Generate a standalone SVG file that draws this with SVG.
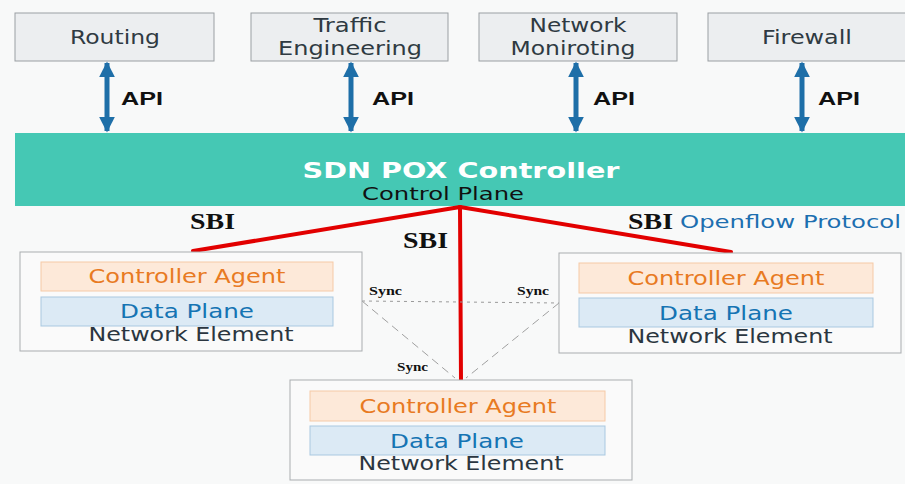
<svg xmlns="http://www.w3.org/2000/svg" width="905" height="484" viewBox="0 0 905 484">
<defs>
<style>
.app{fill:#eceef0;stroke:#9a9fa3;stroke-width:1}
.t{font-family:"DejaVu Sans","Liberation Sans",sans-serif;text-anchor:middle}
.appt{font-size:19.5px;fill:#2f3a42}
.api{font-family:"Liberation Sans",Arial,sans-serif;font-weight:bold;font-size:19px;fill:#111}
.ne{fill:#fafafa;stroke:#a9adb0;stroke-width:1}
.ca{fill:#fde9d9;stroke:#f5c9a6;stroke-width:1}
.dp{fill:#dceaf5;stroke:#a9c8e0;stroke-width:1}
.cat{font-size:20px;fill:#e87a22}
.dpt{font-size:20px;fill:#1574b3}
.net{font-size:20px;fill:#2b3640}
.sbi{font-family:"Liberation Serif","Times New Roman",serif;font-weight:bold;font-size:23px;fill:#111}
.sync{font-family:"Liberation Serif","Times New Roman",serif;font-weight:bold;font-size:12px;fill:#111}
.red{stroke:#e20000;stroke-width:4;fill:none;stroke-linecap:round}
</style>
<marker id="ah" viewBox="0 0 10 10" refX="9" refY="5" markerWidth="3.2" markerHeight="3.2" orient="auto-start-reverse" markerUnits="strokeWidth">
<path d="M0,0 L10,5 L0,10 z" fill="#1e6fa8"/>
</marker>
</defs>
<rect x="0" y="0" width="905" height="484" fill="#f8f9f9"/>

<g id="routing">
<rect class="app" x="15" y="13" width="199" height="48"/>
<text class="t appt" x="115" y="44" textLength="90" lengthAdjust="spacingAndGlyphs">Routing</text>
</g>
<g id="traffic-engineering">
<rect class="app" x="251" y="13" width="197" height="48"/>
<text class="t appt" x="350" y="32" textLength="73" lengthAdjust="spacingAndGlyphs">Traffic</text>
<text class="t appt" x="350" y="55" textLength="144" lengthAdjust="spacingAndGlyphs">Engineering</text>
</g>
<g id="network-monitoring">
<rect class="app" x="479" y="13" width="198" height="48"/>
<text class="t appt" x="578" y="32" textLength="97" lengthAdjust="spacingAndGlyphs">Network</text>
<text class="t appt" x="573" y="55" textLength="125" lengthAdjust="spacingAndGlyphs">Moniroting</text>
</g>
<g id="firewall">
<rect class="app" x="708" y="13" width="210" height="48"/>
<text class="t appt" x="807" y="44" textLength="90" lengthAdjust="spacingAndGlyphs">Firewall</text>
</g>

<g id="controller">
<rect x="15" y="133" width="900" height="73" fill="#45c8b4"/>
<text class="t" x="461" y="178" font-size="21" font-weight="bold" fill="#ffffff" textLength="317" lengthAdjust="spacingAndGlyphs">SDN POX Controller</text>
<text class="t" x="443" y="200" font-size="17" fill="#111" textLength="162" lengthAdjust="spacingAndGlyphs">Control Plane</text>
</g>

<g id="connectors">
<line x1="107" y1="63" x2="107" y2="131" stroke="#1e6fa8" stroke-width="5" marker-start="url(#ah)" marker-end="url(#ah)"/>
<line x1="351" y1="63" x2="351" y2="131" stroke="#1e6fa8" stroke-width="5" marker-start="url(#ah)" marker-end="url(#ah)"/>
<line x1="576" y1="63" x2="576" y2="131" stroke="#1e6fa8" stroke-width="5" marker-start="url(#ah)" marker-end="url(#ah)"/>
<line x1="802" y1="63" x2="802" y2="131" stroke="#1e6fa8" stroke-width="5" marker-start="url(#ah)" marker-end="url(#ah)"/>
<text class="api" x="121" y="105" textLength="42" lengthAdjust="spacingAndGlyphs">API</text>
<text class="api" x="372" y="105" textLength="42" lengthAdjust="spacingAndGlyphs">API</text>
<text class="api" x="593" y="105" textLength="42" lengthAdjust="spacingAndGlyphs">API</text>
<text class="api" x="818" y="105" textLength="42" lengthAdjust="spacingAndGlyphs">API</text>

<line class="red" x1="460" y1="207" x2="193" y2="251"/>
<line class="red" x1="460" y1="207" x2="731" y2="252"/>
<line class="red" x1="460" y1="207" x2="461" y2="380"/>
<text class="sbi" x="190" y="229" textLength="45" lengthAdjust="spacingAndGlyphs">SBI</text>
<text class="sbi" x="403" y="248" textLength="45" lengthAdjust="spacingAndGlyphs">SBI</text>
<text class="sbi" x="628" y="229" textLength="45" lengthAdjust="spacingAndGlyphs">SBI</text>
<text x="680" y="228" font-family="DejaVu Sans,Liberation Sans,sans-serif" font-size="18" fill="#1d6fb0" textLength="221" lengthAdjust="spacingAndGlyphs">Openflow Protocol</text>

<line x1="362" y1="301" x2="559" y2="303" stroke="#9a9a9a" stroke-width="1" stroke-dasharray="3,4"/>
<line x1="362" y1="301" x2="455" y2="378" stroke="#a0a0a0" stroke-width="1" stroke-dasharray="8,5"/>
<line x1="559" y1="303" x2="466" y2="378" stroke="#a0a0a0" stroke-width="1" stroke-dasharray="8,5"/>
<text class="sync" x="369" y="295" textLength="33" lengthAdjust="spacingAndGlyphs">Sync</text>
<text class="sync" x="517" y="295" textLength="32" lengthAdjust="spacingAndGlyphs">Sync</text>
<text class="sync" x="397" y="371" textLength="31" lengthAdjust="spacingAndGlyphs">Sync</text>
</g>

<g id="ne-left">
<rect class="ne" x="20" y="252" width="342" height="99"/>
<rect class="ca" x="41" y="262" width="292" height="29"/>
<rect class="dp" x="41" y="297" width="292" height="29"/>
<text class="t cat" x="187" y="283" textLength="197" lengthAdjust="spacingAndGlyphs">Controller Agent</text>
<text class="t dpt" x="187" y="318" textLength="134" lengthAdjust="spacingAndGlyphs">Data Plane</text>
<text class="t net" x="191" y="341" textLength="205" lengthAdjust="spacingAndGlyphs">Network Element</text>
</g>

<g id="ne-right">
<rect class="ne" x="559" y="253" width="342" height="100"/>
<rect class="ca" x="579" y="263" width="294" height="30"/>
<rect class="dp" x="579" y="298" width="294" height="29"/>
<text class="t cat" x="726" y="285" textLength="197" lengthAdjust="spacingAndGlyphs">Controller Agent</text>
<text class="t dpt" x="726" y="320" textLength="134" lengthAdjust="spacingAndGlyphs">Data Plane</text>
<text class="t net" x="730" y="343" textLength="205" lengthAdjust="spacingAndGlyphs">Network Element</text>
</g>

<g id="ne-bottom">
<rect class="ne" x="290" y="380" width="342" height="100"/>
<rect class="ca" x="310" y="391" width="295" height="30"/>
<rect class="dp" x="310" y="426" width="295" height="29"/>
<text class="t cat" x="458" y="413" textLength="197" lengthAdjust="spacingAndGlyphs">Controller Agent</text>
<text class="t dpt" x="457" y="448" textLength="134" lengthAdjust="spacingAndGlyphs">Data Plane</text>
<text class="t net" x="461" y="470" textLength="205" lengthAdjust="spacingAndGlyphs">Network Element</text>
</g>
</svg>
